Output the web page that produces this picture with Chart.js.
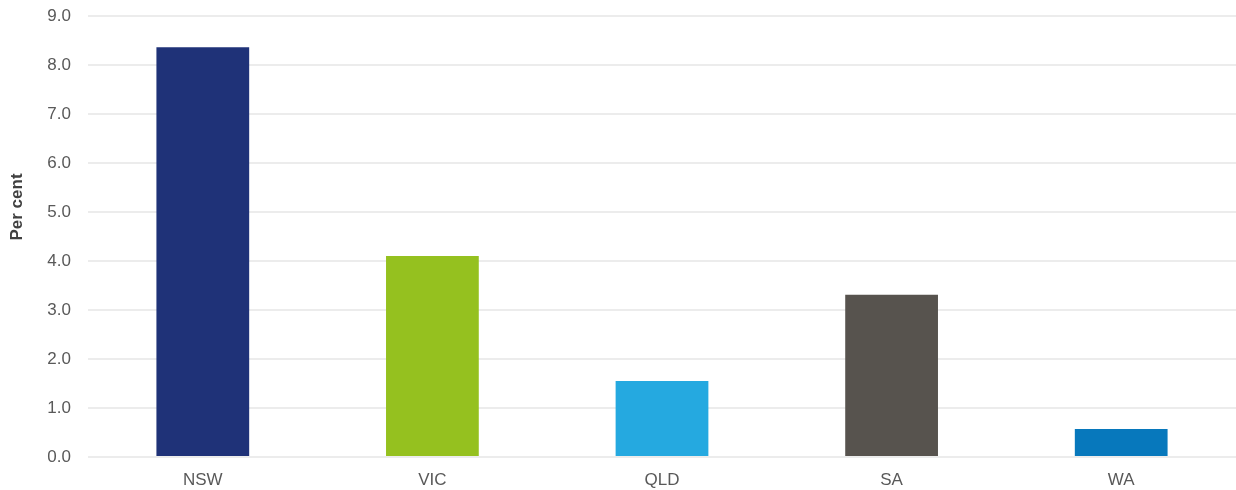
<!DOCTYPE html>
<html>
<head>
<meta charset="utf-8">
<script src="https://cdn.jsdelivr.net/npm/chart.js@4/dist/chart.umd.min.js"></script>
<style>
  html, body { margin: 0; padding: 0; background: #ffffff; }
  #wrap { width: 1236px; height: 490px; }
</style>
</head>
<body>
<div id="wrap"><canvas id="chart" width="1236" height="490"></canvas></div>
<script>
// States and their values, per cent
const states = ['NSW', 'VIC', 'QLD', 'SA', 'WA'];
const values = [8.36, 4.10, 1.55, 3.31, 0.57];
const barColours = ['#1f3278', '#95c11f', '#25a9e0', '#57534e', '#0778bc'];

const yMin = 0;
const yMax = 9;
const yStep = 1;
const yTitle = 'Per cent';

const fontFamily = 'Liberation Sans, Arial, sans-serif';
const tickFont = { family: fontFamily, size: 17 };

// Axis title sits a little above the middle of the axis, so draw it by hand
const yTitlePlugin = {
    id: 'yTitle',
    afterDraw(chart) {
        const ctx = chart.ctx;
        ctx.save();
        ctx.translate(17, 207);
        ctx.rotate(-Math.PI / 2);
        ctx.font = 'bold 17px ' + fontFamily;
        ctx.fillStyle = '#404040';
        ctx.textAlign = 'center';
        ctx.textBaseline = 'middle';
        ctx.fillText(yTitle, 0, 0);
        ctx.restore();
    }
};

new Chart(document.getElementById('chart').getContext('2d'), {
    type: 'bar',
    data: {
        labels: states,
        datasets: [{
            data: values,
            backgroundColor: barColours,
            borderWidth: 0,
            barPercentage: 0.404,
            categoryPercentage: 1.0
        }]
    },
    options: {
        responsive: false,
        animation: false,
        layout: { padding: { top: 16, right: 0, left: 0, bottom: 0 } },
        plugins: {
            legend: { display: false },
            tooltip: { enabled: false }
        },
        scales: {
            x: {
                grid: { display: false },
                border: { display: false },
                ticks: { color: '#595959', font: tickFont, padding: 5 },
                afterFit: function(scale) {
                    scale.height = 33;
                    scale.paddingTop = 0;
                    scale.paddingBottom = 0;
                }
            },
            y: {
                min: yMin,
                max: yMax,
                grid: { color: '#ececec', lineWidth: 2, drawTicks: false },
                border: { display: false },
                ticks: {
                    stepSize: yStep,
                    color: '#595959',
                    font: tickFont,
                    padding: 17,
                    callback: function(v) { return Number(v).toFixed(1); }
                },
                afterFit: function(scale) {
                    scale.width = 88;
                    scale.paddingTop = 0;
                    scale.paddingBottom = 0;
                }
            }
        }
    },
    plugins: [yTitlePlugin]
});
</script>
</body>
</html>
